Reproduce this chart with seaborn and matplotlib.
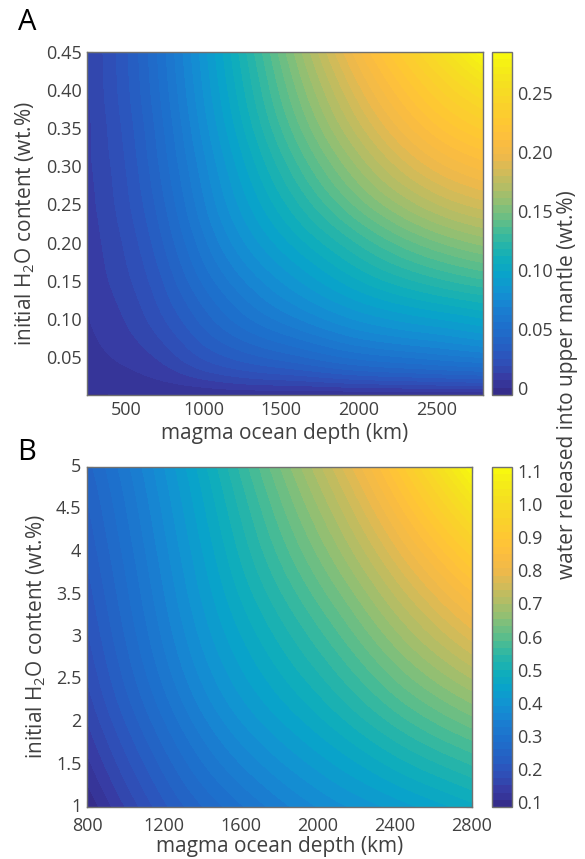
import numpy as np
import matplotlib
matplotlib.use("Agg")
import matplotlib.pyplot as plt
import matplotlib.tri as mtri
from matplotlib.colors import LinearSegmentedColormap
from matplotlib.transforms import ScaledTranslation
import seaborn as sns

sns.set_theme(style="ticks")
plt.rcParams['font.family'] = ['Open Sans', 'DejaVu Sans']
plt.rcParams['mathtext.default'] = 'regular'

# ---- data ----
# panel A: shallow water contents
depth_a = [250, 500, 750, 1000, 1500, 2000, 2500, 2800]
water_a = [0.0, 0.025, 0.05, 0.10, 0.15, 0.20, 0.25, 0.30, 0.35, 0.40, 0.45]
released_a = [
    [0.000, 0.000, 0.000, 0.000, 0.000, 0.000, 0.000, 0.000],
    [0.0025, 0.0045, 0.0085, 0.015, 0.023, 0.030, 0.034, 0.036],
    [0.004, 0.008, 0.015, 0.026, 0.040, 0.052, 0.059, 0.063],
    [0.006, 0.013, 0.025, 0.040, 0.064, 0.082, 0.093, 0.099],
    [0.008, 0.017, 0.032, 0.051, 0.081, 0.105, 0.122, 0.129],
    [0.009, 0.020, 0.038, 0.060, 0.096, 0.125, 0.148, 0.157],
    [0.010, 0.023, 0.043, 0.067, 0.109, 0.145, 0.173, 0.183],
    [0.011, 0.025, 0.047, 0.072, 0.120, 0.162, 0.195, 0.207],
    [0.011, 0.027, 0.050, 0.077, 0.130, 0.177, 0.215, 0.230],
    [0.012, 0.029, 0.053, 0.081, 0.138, 0.190, 0.233, 0.254],
    [0.012, 0.030, 0.055, 0.084, 0.145, 0.203, 0.252, 0.284],
]
cbar_range_a = (-0.006, 0.285)
cbar_ticks_a = [0, 0.05, 0.10, 0.15, 0.20, 0.25]
cbar_labels_a = ['0', '0.05', '0.10', '0.15', '0.20', '0.25']
xticks_a = [500, 1000, 1500, 2000, 2500]
yticks_a = [0.05, 0.10, 0.15, 0.20, 0.25, 0.30, 0.35, 0.40, 0.45]

# panel B: high water contents
depth_b = [800, 1200, 1600, 2000, 2400, 2800]
water_b = [1, 2, 3, 4, 5]
released_b = [
    [0.087, 0.21, 0.30, 0.37, 0.42, 0.47],
    [0.15, 0.28, 0.39, 0.47, 0.55, 0.62],
    [0.19, 0.33, 0.455, 0.555, 0.665, 0.77],
    [0.22, 0.36, 0.505, 0.635, 0.775, 0.925],
    [0.25, 0.39, 0.55, 0.71, 0.89, 1.11],
]
cbar_range_b = (0.085, 1.112)
cbar_ticks_b = [0.1, 0.2, 0.3, 0.4, 0.5, 0.6, 0.7, 0.8, 0.9, 1.0, 1.1]
cbar_labels_b = ['0.1', '0.2', '0.3', '0.4', '0.5', '0.6', '0.7', '0.8', '0.9', '1.0', '1.1']
xticks_b = [800, 1000, 1200, 1400, 1600, 1800, 2000, 2200, 2400, 2600, 2800]
yticks_b = [1, 1.5, 2, 2.5, 3, 3.5, 4, 4.5, 5]

# parula-like map, blues slightly muted like the printed figure
parula = LinearSegmentedColormap.from_list('parula', [
    (0.2081, 0.1663, 0.5292), (0.2150, 0.2350, 0.6400), (0.1800, 0.3200, 0.7300),
    (0.1400, 0.3850, 0.7700), (0.1150, 0.4400, 0.8000), (0.1000, 0.5000, 0.8200),
    (0.0700, 0.5750, 0.8250), (0.0350, 0.6400, 0.7900), (0.0650, 0.6838, 0.7254),
    (0.1801, 0.7177, 0.6424), (0.3482, 0.7424, 0.5473), (0.5300, 0.7491, 0.4661),
    (0.6834, 0.7435, 0.4044), (0.8185, 0.7327, 0.3498), (0.9450, 0.7261, 0.2886),
    (0.9938, 0.7455, 0.2403), (0.9955, 0.7861, 0.1967), (0.9789, 0.8271, 0.1633),
    (0.9626, 0.8705, 0.1309), (0.9598, 0.9218, 0.0948), (0.9763, 0.9831, 0.0538),
])

TXT = '#404040'
EDGE = '#707070'
W, H = 585, 859


def box(x0, y0, x1, y1):
    # pixel box -> figure fraction
    return [x0 / W, 1 - y1 / H, (x1 - x0) / W, (y1 - y0) / H]


def draw_panel(ax, cax, depth, water, released, crange, ticks, tick_labels):
    depth = np.asarray(depth, float)
    water = np.asarray(water, float)
    D, Wt = np.meshgrid(depth, water)
    z = np.asarray(released, float).ravel()

    # smooth the read grid with matplotlib's cubic refiner (in normalised space)
    dspan, wspan = depth[-1] - depth[0], water[-1] - water[0]
    tri = mtri.Triangulation((D.ravel() - depth[0]) / dspan, (Wt.ravel() - water[0]) / wspan)
    interp = mtri.CubicTriInterpolator(tri, z, kind='min_E')
    tri_f, z_f = mtri.UniformTriRefiner(tri).refine_field(z, triinterpolator=interp, subdiv=4)
    tri_xy = mtri.Triangulation(depth[0] + tri_f.x * dspan, water[0] + tri_f.y * wspan, tri_f.triangles)
    z_f = np.clip(z_f, crange[0], crange[1])

    levels = np.linspace(crange[0], crange[1], 48)
    cs = ax.tricontourf(tri_xy, z_f, levels=levels, cmap=parula)
    ax.set_xlim(depth[0], depth[-1])
    ax.set_ylim(water[0], water[-1])

    ax.tick_params(direction='in', top=True, right=True, length=4, width=0.8,
                   color=EDGE, labelcolor=TXT, labelsize=13)
    ax.tick_params(axis='y', pad=4)
    for s in ax.spines.values():
        s.set_color(EDGE)
        s.set_linewidth(1.0)

    cb = plt.colorbar(cs, cax=cax, ticks=ticks)
    cb.ax.set_yticklabels(tick_labels)
    cb.outline.set_edgecolor(EDGE)
    cb.outline.set_linewidth(1.0)
    cax.tick_params(direction='in', length=4, width=0.8, color=EDGE,
                    labelcolor=TXT, labelsize=13, pad=4)
    return cs


fig = plt.figure(figsize=(W / 100, H / 100), dpi=100)
ax_a = fig.add_axes(box(87, 52, 483, 395))
cax_a = fig.add_axes(box(492, 52, 512, 395))
ax_b = fig.add_axes(box(87, 467, 472, 807))
cax_b = fig.add_axes(box(492, 467, 512, 807))

draw_panel(ax_a, cax_a, depth_a, water_a, released_a, cbar_range_a, cbar_ticks_a, cbar_labels_a)
ax_a.set_xticks(xticks_a)
ax_a.set_yticks(yticks_a)
ax_a.set_yticklabels([f'{v:.2f}' for v in yticks_a])
ax_a.tick_params(axis='x', pad=4)

draw_panel(ax_b, cax_b, depth_b, water_b, released_b, cbar_range_b, cbar_ticks_b, cbar_labels_b)
ax_b.set_xticks(xticks_b)
ax_b.set_xticklabels([str(v) if v % 400 == 0 else '' for v in xticks_b])
ax_b.set_yticks(yticks_b)
ax_b.set_yticklabels([f'{v:g}' for v in yticks_b])
ax_b.tick_params(axis='x', pad=7)
# MATLAB sits the y labels a touch above their ticks
lift = ScaledTranslation(0, 2 / 100, fig.dpi_scale_trans)
for lbl in ax_b.get_yticklabels():
    lbl.set_transform(lbl.get_transform() + lift)

ax_a.set_xlabel('magma ocean depth (km)', fontsize=15, color=TXT, labelpad=3)
ax_b.set_xlabel('magma ocean depth (km)', fontsize=15, color=TXT, labelpad=1)
for ax in (ax_a, ax_b):
    ax.set_ylabel('initial H$_2$O content (wt.%)', fontsize=15, color=TXT, labelpad=6)

fig.text(568 / W, 1 - 385 / H, 'water released into upper mantle (wt.%)', rotation=90,
         ha='center', va='center', fontsize=15, color=TXT)
fig.text(27 / W, 1 - 23 / H, 'A', fontsize=21, ha='center', va='center', color='black')
fig.text(27 / W, 1 - 452 / H, 'B', fontsize=21, ha='center', va='center', color='black')

fig.savefig('out.png', dpi=100)
